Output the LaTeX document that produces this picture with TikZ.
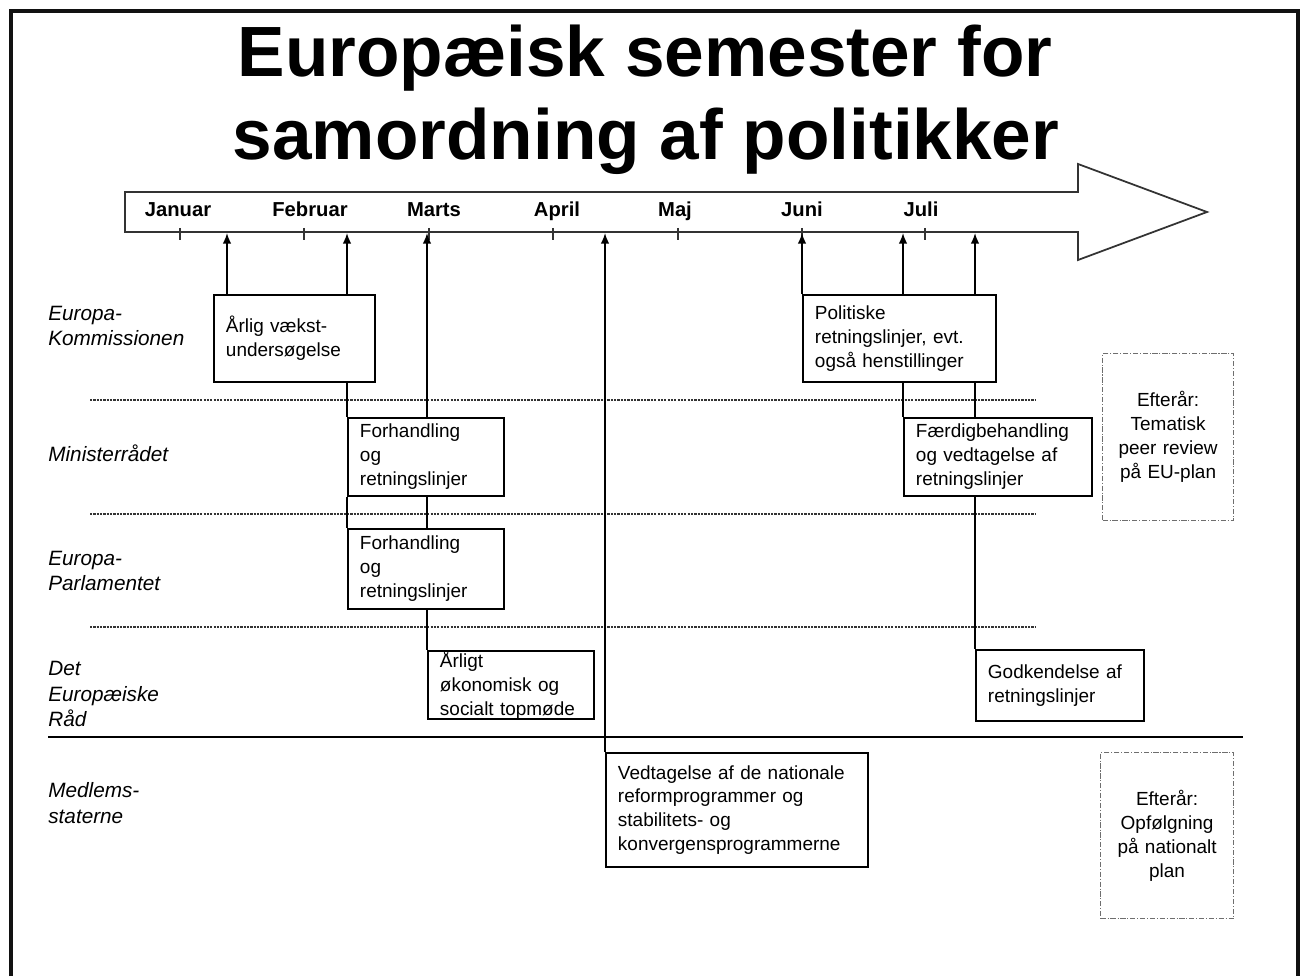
\documentclass[tikz,border=0pt]{standalone}
\usepackage{fontspec}
\setmainfont{Liberation Sans}
\usepackage{tikz}
\usetikzlibrary{
  arrows.meta,
  positioning,
  calc
}
\definecolor{darkgrey}{HTML}{333333}
\definecolor{dashgrey}{HTML}{6E6E6E}
\definecolor{framegrey}{HTML}{111111}
\tikzset{
  evtbox/.style={
    rectangle, draw=black, line width=1.1pt, anchor=north west,
    align=left, inner xsep=0.24cm, inner ysep=2pt,
    font=\fontsize{10.8}{13.6}\selectfont
  },
  fallbox/.style={
    rectangle, draw=dashgrey, line width=0.7pt,
    dash pattern=on 3pt off 1pt on 0.6pt off 1pt, anchor=north west,
    align=center, inner xsep=0.1cm, inner ysep=2pt,
    font=\fontsize{10.8}{13.6}\selectfont
  },
  lanelabel/.style={
    anchor=west, align=left, inner sep=0pt,
    font=\itshape\fontsize{11.8}{14.5}\selectfont
  },
  monthlabel/.style={
    anchor=base, inner sep=0pt, font=\bfseries\fontsize{11.5}{13}\selectfont
  },
  titletext/.style={
    anchor=base, inner sep=0pt, font=\bfseries\fontsize{40.5}{46}\selectfont
  },
  arrowstyle/.style={
    -{Latex[length=6pt,width=4.8pt]}, line width=0.9pt
  },
  linkline/.style={line width=0.9pt},
  lanesep/.style={line width=1.1pt, darkgrey, dash pattern=on 1.3pt off 0.6pt},
}
\begin{document}
\begin{tikzpicture}[x=0.02cm, y=-0.02cm]
  \useasboundingbox (0,0) rectangle (1300,976);

  %% Frame
  \draw[framegrey, line width=2.2pt] (11,976) -- (11,11) -- (1298,11) -- (1298,976);

  %% Title
  \node[titletext] (title1) at (645,77) {Europæisk semester for};
  \node[titletext] (title2) at (646,160) {samordning af politikker};

  %% Timeline arrow
  \draw[darkgrey, line width=1pt, line join=miter]
    (125,192) -- (1078,192) -- (1078,164) -- (1207,212) -- (1078,260)
    -- (1078,232) -- (125,232) -- cycle;
  \foreach \x in {180,304,429,553,678,802,925}
    \draw[darkgrey, line width=0.7pt] (\x,228) -- (\x,240);

  \node[monthlabel] (jan) at (178,217) {Januar};
  \node[monthlabel] (feb) at (310,217) {Februar};
  \node[monthlabel] (mar) at (434,217) {Marts};
  \node[monthlabel] (apr) at (557,217) {April};
  \node[monthlabel] (maj) at (675,217) {Maj};
  \node[monthlabel] (jun) at (802,217) {Juni};
  \node[monthlabel] (jul) at (921,217) {Juli};

  \coordinate (tA) at (227,233);
  \coordinate (tB) at (347,233);
  \coordinate (tC) at (427,233);
  \coordinate (tD) at (605,233);
  \coordinate (tE) at (802,233);
  \coordinate (tF) at (903,233);
  \coordinate (tG) at (975,233);

  %% Lane labels and separators
  \node[lanelabel] (lKom) at (48,326) {Europa-\\Kommissionen};
  \node[lanelabel] (lMin) at (48,453) {Ministerrådet};
  \node[lanelabel] (lParl) at (48,571) {Europa-\\Parlamentet};
  \node[lanelabel] (lRaad) at (48,694) {Det\\Europæiske\\Råd};
  \node[lanelabel] (lMedl) at (48,803) {Medlems-\\staterne};

  \draw[lanesep] (90,400) -- (1035,400);
  \draw[lanesep] (90,514) -- (1035,514);
  \draw[lanesep] (90,627) -- (1035,627);
  \draw[line width=0.9pt] (48,737) -- (1243,737);

  %% Event boxes
  \node[evtbox, minimum width=3.22cm, text width=2.74cm, minimum height=1.74cm]
    (aarlig) at (213,294) {Årlig vækst-\\undersøgelse};
  \node[evtbox, minimum width=3.12cm, text width=2.64cm, minimum height=1.56cm]
    (forh1) at (347,417) {Forhandling\\og\\retningslinjer};
  \node[evtbox, minimum width=3.12cm, text width=2.64cm, minimum height=1.6cm]
    (forh2) at (347,528) {Forhandling\\og\\retningslinjer};
  \node[evtbox, minimum width=3.32cm, text width=2.84cm, minimum height=1.36cm, inner ysep=0pt]
    (aarligt) at (427,650) {Årligt\\økonomisk og\\socialt topmøde};
  \node[evtbox, minimum width=3.86cm, text width=3.38cm, minimum height=1.74cm]
    (politiske) at (802,294) {Politiske\\retningslinjer, evt.\\også henstillinger};
  \node[evtbox, minimum width=3.76cm, text width=3.28cm, minimum height=1.56cm]
    (faerdig) at (903,417) {Færdigbehandling\\og vedtagelse af\\retningslinjer};
  \node[evtbox, minimum width=3.36cm, text width=2.88cm, minimum height=1.42cm]
    (godkend) at (975,649) {Godkendelse af\\retningslinjer};
  \node[evtbox, minimum width=5.24cm, text width=4.76cm, minimum height=2.28cm]
    (vedtag) at (605,752) {Vedtagelse af de nationale\\reformprogrammer og\\stabilitets- og\\konvergensprogrammerne};

  \node[fallbox, minimum width=2.62cm, text width=2.42cm, minimum height=3.34cm]
    (efter1) at (1102,353) {Efterår:\\Tematisk\\peer review\\på EU-plan};
  \node[fallbox, minimum width=2.66cm, text width=2.46cm, minimum height=3.32cm]
    (efter2) at (1100,752) {Efterår:\\Opfølgning\\på nationalt\\plan};

  %% Arrows up to the timeline
  \draw[arrowstyle] (aarlig.north -| tA) -- (tA);
  \draw[arrowstyle] (aarlig.north -| tB) -- (tB);
  \draw[arrowstyle] (forh1.north -| tC) -- (tC);
  \draw[arrowstyle] (vedtag.north west) -- (tD);
  \draw[arrowstyle] (politiske.north west) -- (tE);
  \draw[arrowstyle] (politiske.north -| tF) -- (tF);
  \draw[arrowstyle] (politiske.north -| tG) -- (tG);

  %% Links between boxes
  \draw[linkline] (aarlig.south -| tB) -- (forh1.north west);
  \draw[linkline] (forh1.south west) -- (forh2.north west);
  \draw[linkline] (forh1.south -| tC) -- (forh2.north -| tC);
  \draw[linkline] (forh2.south -| tC) -- (aarligt.north west);
  \draw[linkline] (politiske.south -| tF) -- (faerdig.north west);
  \draw[linkline] (politiske.south -| tG) -- (faerdig.north -| tG);
  \draw[linkline] (faerdig.south -| tG) -- (godkend.north west);

\end{tikzpicture}
\end{document}
